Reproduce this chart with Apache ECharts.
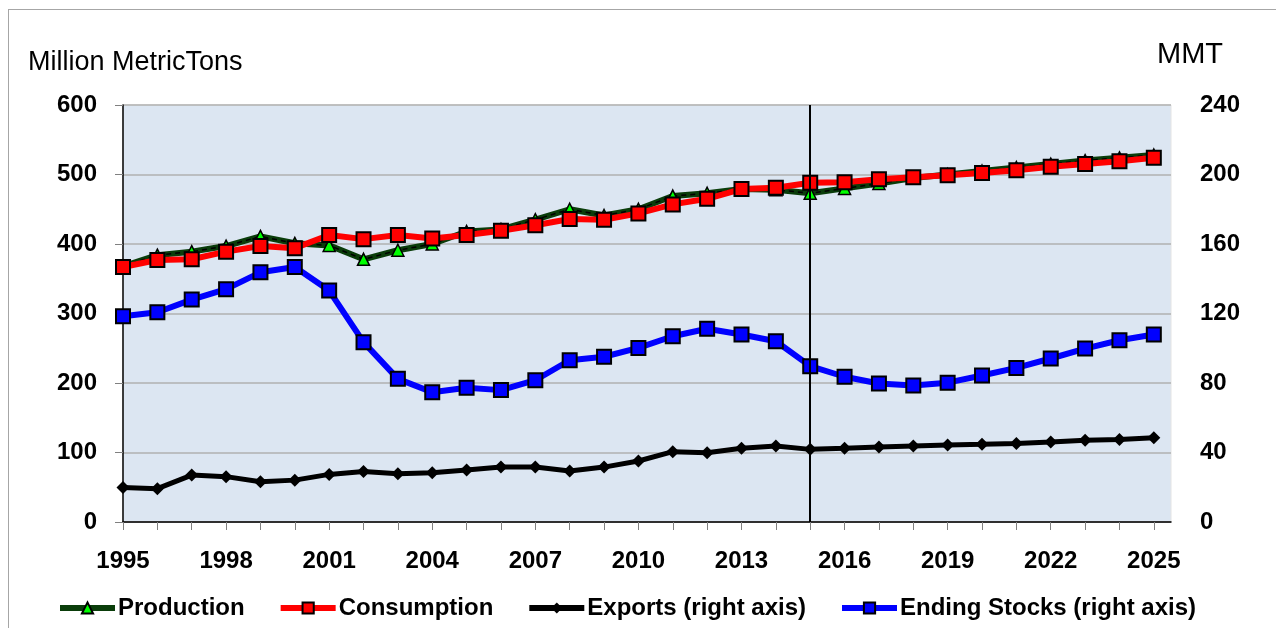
<!DOCTYPE html>
<html>
<head>
<meta charset="utf-8">
<script src="https://cdn.jsdelivr.net/npm/echarts@6/dist/echarts.min.js"></script>
<style>
html, body { margin: 0; padding: 0; background: #fff; }
#frame { position: absolute; left: 8px; top: 9px; right: 0; bottom: 0; border-left: 1.5px solid #a6a6a6; border-top: 1.5px solid #a6a6a6; }
#main { position: absolute; left: 0; top: 0; width: 1276px; height: 628px; }
</style>
</head>
<body>
<div id="frame"></div>
<div id="main"></div>
<script>
var years = [1995,1996,1997,1998,1999,2000,2001,2002,2003,2004,2005,2006,2007,2008,2009,2010,
             2011,2012,2013,2014,2015,2016,2017,2018,2019,2020,2021,2022,2023,2024,2025];
var labelYears = [1995,1998,2001,2004,2007,2010,2013,2016,2019,2022,2025];
var production = [368,384,389,397,411,401,398,378,391,400,418,421,435,450,441,450,
                   469,473,479,478,473,480,487,495,500,505,510,515,520,524,528];
var consumption = [367,377,378,389,397,394,413,407,413,408,413,419,427,436,435,444,
                   457,465,479,481,488,489,493,496,499,502,506,511,515,519,524];
var exportsRight = [19.8,19.2,27.0,26.1,23.2,24.1,27.4,29.0,27.8,28.4,29.9,31.6,31.6,29.3,31.6,35.1,
                    40.5,39.9,42.4,43.7,41.8,42.4,43.1,43.7,44.3,44.7,45.2,46.0,47.0,47.5,48.5];
var stocksRight = [118.4,120.7,128.0,134.0,143.7,146.8,133.2,103.5,82.4,74.7,77.3,75.9,81.6,93.1,95.1,100.2,
                   106.9,111.2,107.9,104.0,89.7,83.6,79.7,78.6,80.2,84.3,88.7,94.1,99.8,104.6,107.9];
var splitYear = 2015;

function pairs(vals) {
    return years.map(function (y, i) { return [y, vals[i]]; });
}

var chart = echarts.init(document.getElementById('main'));
var font = '"Liberation Sans", Arial, sans-serif';
var option = {
    animation: false,
    textStyle: { fontFamily: font },
    title: [
        { text: 'Million MetricTons', left: 28, top: 49, padding: 0,
          textStyle: { fontSize: 27, fontWeight: 'normal', color: '#000', fontFamily: font } },
        { text: 'MMT', left: 1157, top: 40, padding: 0,
          textStyle: { fontSize: 29, fontWeight: 'normal', color: '#000', fontFamily: font } }
    ],
    grid: {
        left: 123, right: 105, top: 105, bottom: 106,
        show: true, backgroundColor: '#dce6f2', borderWidth: 1, borderColor: '#e4e4e4'
    },
    legend: {
        data: ['Production', 'Consumption', 'Exports (right axis)', 'Ending Stocks (right axis)'],
        left: 57, top: 596, padding: 0, itemWidth: 55, itemHeight: 14, itemGap: 33,
        lineStyle: { width: 6 },
        textStyle: { fontSize: 24, fontWeight: 'bold', color: '#000', padding: [0, 0, 0, -2] }
    },
    xAxis: {
        type: 'value', min: 1995, max: 2025.5,
        axisLine: { show: true, onZero: false, lineStyle: { color: '#000', width: 1.5 } },
        axisTick: { show: true, length: 8, customValues: years, lineStyle: { color: '#808080' } },
        axisLabel: { customValues: labelYears, fontSize: 24, fontWeight: 'bold', color: '#000', margin: 27,
                     formatter: function (v) { return String(v); } },
        splitLine: { show: false }
    },
    yAxis: [
        {
            type: 'value', min: 0, max: 600, interval: 100,
            axisLine: { show: true, lineStyle: { color: '#000', width: 1.5 } },
            axisTick: { show: true, length: 8, lineStyle: { color: '#808080' } },
            axisLabel: { fontSize: 24, fontWeight: 'bold', color: '#000', margin: 26 },
            splitLine: { lineStyle: { color: '#b0b0b0', width: 1.5 } }
        },
        {
            type: 'value', min: 0, max: 240, interval: 40,
            axisLine: { show: false },
            axisTick: { show: false },
            axisLabel: { fontSize: 24, fontWeight: 'bold', color: '#000', margin: 29 },
            splitLine: { show: false }
        }
    ],
    series: [
        {
            name: 'Production', type: 'line', data: pairs(production),
            symbol: 'triangle', symbolSize: 12,
            lineStyle: { color: '#0a3d0a', width: 6 },
            itemStyle: { color: '#00ff00', borderColor: '#000', borderWidth: 1.5 },
            markLine: {
                silent: true, symbol: 'none', label: { show: false },
                lineStyle: { color: '#000', width: 2, type: 'solid' },
                data: [{ xAxis: splitYear }]
            }
        },
        {
            name: 'ProductionDash', type: 'line', data: pairs(production),
            symbol: 'none', silent: true,
            lineStyle: { color: '#000', width: 1.5, type: [5, 4] }
        },
        {
            name: 'Consumption', type: 'line', data: pairs(consumption),
            symbol: 'rect', symbolSize: 14,
            lineStyle: { color: '#ff0000', width: 6 },
            itemStyle: { color: '#ff0000', borderColor: '#000', borderWidth: 2 }
        },
        {
            name: 'Exports (right axis)', type: 'line', yAxisIndex: 1, data: pairs(exportsRight),
            symbol: 'diamond', symbolSize: 13,
            lineStyle: { color: '#000', width: 5 },
            itemStyle: { color: '#000' }
        },
        {
            name: 'Ending Stocks (right axis)', type: 'line', yAxisIndex: 1, data: pairs(stocksRight),
            symbol: 'rect', symbolSize: 14,
            lineStyle: { color: '#0000ff', width: 6 },
            itemStyle: { color: '#0000ff', borderColor: '#000', borderWidth: 2 }
        }
    ]
};
chart.setOption(option);
</script>
</body>
</html>
